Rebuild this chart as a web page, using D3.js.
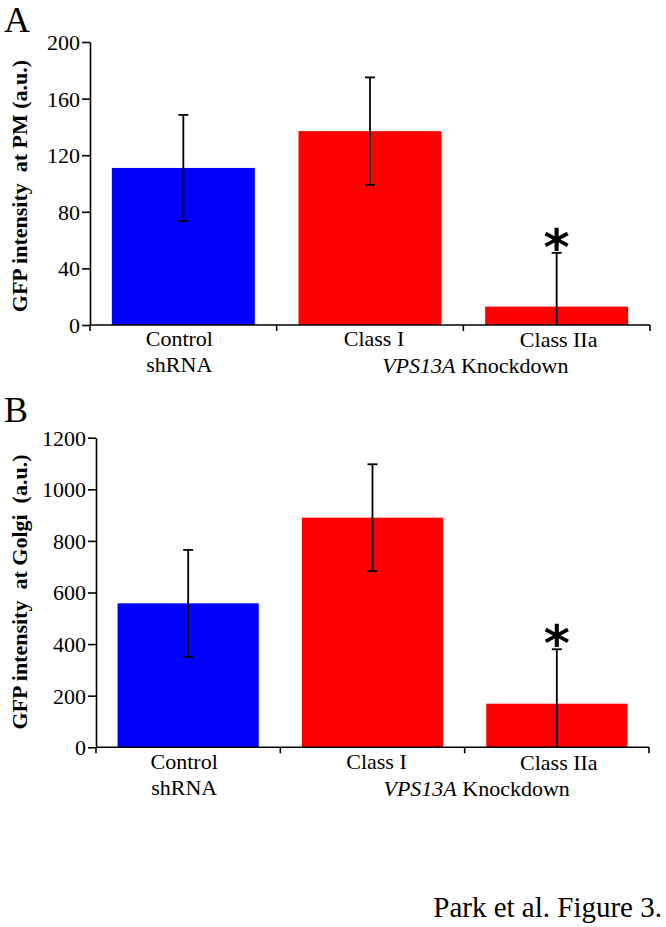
<!DOCTYPE html>
<html>
<head>
<meta charset="utf-8">
<script src="https://cdn.jsdelivr.net/npm/d3@7"></script>
<style>
  body { margin: 0; background: #fff; }
  svg { display: block; }
  text { font-family: "Liberation Serif", "Times New Roman", serif; fill: #000; }
</style>
</head>
<body>
<svg id="chart" width="666" height="927"></svg>
<script>
// ---------- data ----------
const categories = ["Control", "Class I", "Class IIa"];
const colors = ["#0000ff", "#ff0000", "#ff0000"];
const pmValues = [111, 137, 13];
const pmErrors = [37.5, 38, 38];
const golgiValues = [558, 890, 169];
const golgiErrors = [207, 207, 211];
const pmTicks = [0, 40, 80, 120, 160, 200];
const golgiTicks = [0, 200, 400, 600, 800, 1000, 1200];
const significant = [false, false, true];

const svg = d3.select("#chart");

function panel(opts) {
  const { letter, letterY, x0, x1, yTop, yBottom, maxV, ticks, values, errors, ylabel, labelY,
          catBase, groupBase } = opts;
  const g = svg.append("g");
  const y = d3.scaleLinear().domain([0, maxV]).range([yBottom, yTop]);
  const x = d3.scaleBand().domain(categories).range([x0, x1]).paddingInner(0.234).paddingOuter(0.117);

  // panel letter
  g.append("text").attr("x", 4).attr("y", letterY).attr("font-size", 36).text(letter);

  // bars
  g.selectAll("rect.bar").data(categories).join("rect")
    .attr("x", d => x(d)).attr("width", x.bandwidth())
    .attr("y", (d, i) => y(values[i]))
    .attr("height", (d, i) => y(0) - y(values[i]))
    .attr("fill", (d, i) => colors[i]);

  // error bars
  const eb = g.selectAll("g.err").data(categories).join("g")
    .attr("transform", d => `translate(${x(d) + x.bandwidth() / 2},0)`);
  eb.append("line")
    .attr("y1", (d, i) => y(Math.max(0, values[i] - errors[i])))
    .attr("y2", (d, i) => y(values[i] + errors[i]))
    .attr("stroke", "#000").attr("stroke-width", 1.8);
  eb.append("line")
    .attr("x1", -5).attr("x2", 5)
    .attr("y1", (d, i) => y(values[i] + errors[i]))
    .attr("y2", (d, i) => y(values[i] + errors[i]))
    .attr("stroke", "#000").attr("stroke-width", 1.8);
  eb.filter((d, i) => values[i] - errors[i] > 0).append("line")
    .attr("x1", -5).attr("x2", 5)
    .attr("y1", (d, i) => y(values[i] - errors[i]))
    .attr("y2", (d, i) => y(values[i] - errors[i]))
    .attr("stroke", "#000").attr("stroke-width", 1.8);

  // significance asterisk
  eb.filter((d, i) => significant[i]).append("text")
    .attr("text-anchor", "middle")
    .attr("y", (d) => { const i = categories.indexOf(d); return y(values[i] + errors[i]) + 12; })
    .attr("font-size", 50)
    .style("font-family", "'DejaVu Sans'")
    .attr("font-weight", "bold")
    .text("*");

  // y axis
  const ya = g.append("g").attr("transform", `translate(${x0},0)`)
    .call(d3.axisLeft(y).tickValues(ticks).tickFormat(d3.format("d"))
      .tickSize(8).tickSizeOuter(0).tickPadding(2));
  ya.select(".domain").attr("stroke-width", 1.6);
  ya.selectAll(".tick line").attr("stroke-width", 1.6);
  ya.selectAll(".tick text").attr("font-size", 22).attr("dy", "0.34em");

  // x axis
  g.append("line").attr("x1", x0).attr("x2", x1).attr("y1", y(0)).attr("y2", y(0))
    .attr("stroke", "#000").attr("stroke-width", 1.6);
  const bounds = d3.range(categories.length + 1).map(i => x0 + i * x.step());
  g.selectAll("line.xt").data(bounds).join("line")
    .attr("x1", d => d).attr("x2", d => d)
    .attr("y1", y(0)).attr("y2", y(0) + 6)
    .attr("stroke", "#000").attr("stroke-width", 1.6);

  // category labels
  const cx = d => x(d) + x.bandwidth() / 2;
  g.append("text").attr("x", cx("Control") - 4).attr("y", catBase).attr("text-anchor", "middle")
    .attr("font-size", 22).text("Control");
  g.append("text").attr("x", cx("Control") - 4).attr("y", catBase + 26).attr("text-anchor", "middle")
    .attr("font-size", 22).text("shRNA");
  g.append("text").attr("x", cx("Class I") + 4).attr("y", catBase).attr("text-anchor", "middle")
    .attr("font-size", 22).text("Class I");
  g.append("text").attr("x", cx("Class IIa") + 2).attr("y", catBase + 1).attr("text-anchor", "middle")
    .attr("font-size", 22).text("Class IIa");
  const grp = g.append("text").attr("x", (cx("Class I") + cx("Class IIa")) / 2 + 12)
    .attr("y", groupBase).attr("text-anchor", "middle").attr("font-size", 22);
  grp.append("tspan").attr("font-style", "italic").text("VPS13A");
  grp.append("tspan").text(" Knockdown");

  // y label
  g.append("text")
    .attr("transform", `translate(27,${labelY}) rotate(-90)`)
    .attr("text-anchor", "middle").attr("font-size", 22).attr("font-weight", "bold")
    .style("white-space", "pre")
    .text(ylabel);
}

panel({ letter: "A", letterY: 32, x0: 90, x1: 650, yTop: 42, yBottom: 325, maxV: 200, ticks: pmTicks,
  values: pmValues, errors: pmErrors, ylabel: "GFP intensity  at PM (a.u.)", labelY: 186,
  catBase: 346, groupBase: 373 });
panel({ letter: "B", letterY: 422, x0: 96, x1: 649, yTop: 437.7, yBottom: 747.3, maxV: 1200, ticks: golgiTicks,
  values: golgiValues, errors: golgiErrors, ylabel: "GFP intensity  at Golgi  (a.u.)", labelY: 592,
  catBase: 769, groupBase: 796 });

svg.append("text").attr("x", 662).attr("y", 917).attr("text-anchor", "end")
  .attr("font-size", 29).text("Park et al. Figure 3.");
</script>
</body>
</html>
